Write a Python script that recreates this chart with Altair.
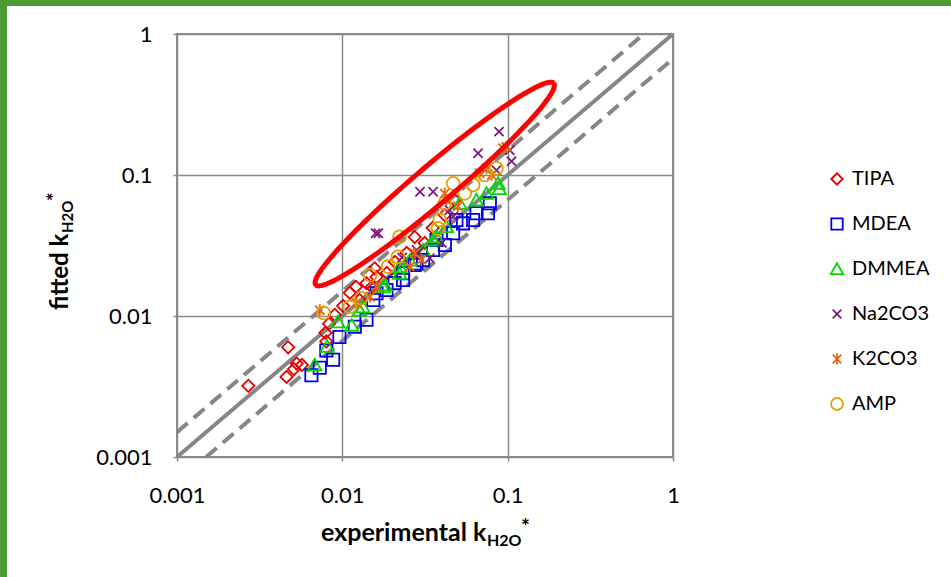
import altair as alt
import numpy as np
import pandas as pd

# ---------------- data ----------------
series_names = ["TIPA", "MDEA", "DMMEA", "Na2CO3", "K2CO3", "AMP"]
series_colors = ["#E20000", "#0000EE", "#00D800", "#7A1A82", "#E8650F", "#E3A100"]

tipa_x = [0.0027, 0.0047, 0.0046, 0.0053, 0.0057, 0.0051, 0.0080, 0.0079, 0.0083, 0.0090,
          0.0101, 0.0111, 0.0121, 0.0127, 0.0140, 0.0151, 0.0157, 0.0161, 0.0186, 0.0208,
          0.0245, 0.0274, 0.0315, 0.0352, 0.0416, 0.0478]
tipa_y = [0.0032, 0.0060, 0.0037, 0.0046, 0.0045, 0.0042, 0.0066, 0.0076, 0.0088, 0.0102,
          0.0118, 0.0146, 0.0161, 0.0130, 0.0171, 0.0161, 0.0218, 0.0189, 0.0202, 0.0242,
          0.0280, 0.0363, 0.0330, 0.0421, 0.0520, 0.0665]

mdea_x = [0.0065, 0.0073, 0.0088, 0.0080, 0.0096, 0.0119, 0.0140, 0.0154, 0.0161, 0.0185,
          0.0207, 0.0233, 0.0233, 0.0274, 0.0281, 0.0308, 0.0354, 0.0371, 0.0417, 0.0468,
          0.0490, 0.0537, 0.0618, 0.0648, 0.0760, 0.0780]
mdea_y = [0.0038, 0.0043, 0.0049, 0.0057, 0.0071, 0.0084, 0.0094, 0.0130, 0.0145, 0.0153,
          0.0171, 0.0201, 0.0180, 0.0230, 0.0236, 0.0249, 0.0294, 0.0346, 0.0319, 0.0386,
          0.0480, 0.0454, 0.0480, 0.0535, 0.0535, 0.0630]

dmmea_x = [0.0068, 0.0081, 0.0094, 0.0114, 0.0127, 0.0133, 0.0176, 0.0181, 0.0222, 0.0222,
           0.0256, 0.0308, 0.0354, 0.0371, 0.0426, 0.0513, 0.0647, 0.0745, 0.0875, 0.0890]
dmmea_y = [0.0045, 0.0061, 0.0091, 0.0086, 0.0110, 0.0116, 0.0161, 0.0166, 0.0201, 0.0224,
           0.0249, 0.0294, 0.0346, 0.0365, 0.0430, 0.0630, 0.0665, 0.0741, 0.0873, 0.0800]

na2co3_x = [0.0159, 0.0165, 0.0230, 0.0287, 0.0281, 0.0295, 0.0338, 0.0354, 0.0400, 0.0445,
            0.0468, 0.0662, 0.0855, 0.0887, 0.1030, 0.1055]
na2co3_y = [0.0386, 0.0386, 0.0260, 0.0279, 0.0294, 0.0761, 0.0257, 0.0761, 0.0330, 0.0565,
            0.0506, 0.1426, 0.1080, 0.2030, 0.1500, 0.1250]

k2co3_x = [0.0073, 0.0122, 0.0147, 0.0161, 0.0256, 0.0274, 0.0300, 0.0416, 0.0426, 0.0500,
           0.0678, 0.0745, 0.0800, 0.0938, 0.0980]
k2co3_y = [0.0110, 0.0123, 0.0137, 0.0161, 0.0224, 0.0279, 0.0250, 0.0741, 0.0665, 0.0600,
           0.1028, 0.1114, 0.1000, 0.1546, 0.1580]

amp_x = [0.0077, 0.0111, 0.0130, 0.0147, 0.0189, 0.0217, 0.0222, 0.0379, 0.0388, 0.0416,
         0.0468, 0.0550, 0.0618, 0.0727, 0.0855]
amp_y = [0.0105, 0.0116, 0.0134, 0.0195, 0.0224, 0.0263, 0.0365, 0.0419, 0.0480, 0.0630,
         0.0873, 0.0741, 0.0850, 0.1000, 0.1114]

tick_values = [0.001, 0.01, 0.1, 1]
ratio_band = 1.5          # dashed lines: fitted = 1.5 * exp and exp / 1.5

# annotation ellipse (in log10 space): centre, semi-major and semi-minor vectors
ell_center = (-1.441, -1.064)
ell_major = (0.720, 0.715)
ell_minor = (0.0742, -0.1028)

# ---------------- tables ----------------
all_x = [tipa_x, mdea_x, dmmea_x, na2co3_x, k2co3_x, amp_x]
all_y = [tipa_y, mdea_y, dmmea_y, na2co3_y, k2co3_y, amp_y]
rows = []
for name, xs, ys in zip(series_names, all_x, all_y):
    for a, b in zip(xs, ys):
        rows.append({"series": name, "exp": a, "fit": b})
pts = pd.DataFrame(rows)

diag = pd.DataFrame({"exp": [0.001, 1.0], "fit": [0.001, 1.0]})
dashed = pd.DataFrame({
    "exp": [0.001, 1.0 / ratio_band, 0.001 * ratio_band, 1.0],
    "fit": [0.001 * ratio_band, 1.0, 0.001, 1.0 / ratio_band],
    "k": ["up", "up", "lo", "lo"],
})

t = np.linspace(0, 2 * np.pi, 181)
ell = pd.DataFrame({
    "exp": 10 ** (ell_center[0] + ell_major[0] * np.cos(t) + ell_minor[0] * np.sin(t)),
    "fit": 10 ** (ell_center[1] + ell_major[1] * np.cos(t) + ell_minor[1] * np.sin(t)),
    "i": np.arange(len(t)),
})
one = pd.DataFrame({"a": [0]})

# ---------------- styling ----------------
FONT = "Lato"
GRID = "#8A8A8A"
LINE = "#868686"
GREEN = "#4E9A33"

xscale = alt.Scale(type="log", domain=[0.001, 1], nice=False)
yscale = alt.Scale(type="log", domain=[0.001, 1], nice=False)
ax_x = alt.Axis(values=tick_values, format="~g", title=None, grid=True, domain=False,
                tickSize=4, labelPadding=24, labelFlush=False, labelFont=FONT,
                labelFontSize=22, labelColor="#000000", labelOverlap=False)
ax_y = alt.Axis(values=tick_values, format="~g", title=None, grid=True, domain=False,
                tickSize=4, labelPadding=21, labelFlush=False, labelFont=FONT,
                labelFontSize=22, labelColor="#000000", labelOverlap=False)

X = alt.X("exp:Q", scale=xscale, axis=ax_x)
Y = alt.Y("fit:Q", scale=yscale, axis=ax_y)

shapes = [
    "diamond",
    "square",
    "M0,-1L1.1,0.9L-1.1,0.9Z",
    "M-0.75,-0.75L0.75,0.75M-0.75,0.75L0.75,-0.75",
    "M-0.75,-0.75L0.75,0.75M-0.75,0.75L0.75,-0.75M0,-0.95L0,0.95",
    "M-1.05,0A1.05,1.05 0 1,0 1.05,0A1.05,1.05 0 1,0 -1.05,0Z",
]

leg = alt.Legend(title=None, orient="none", legendX=650, legendY=135, padding=0,
                 labelFont=FONT, labelFontSize=20, labelColor="#000000",
                 symbolSize=130, symbolStrokeWidth=1.8, rowPadding=25, labelOffset=5)

diag_layer = alt.Chart(diag).mark_line(color=LINE, strokeWidth=4).encode(x=X, y=Y)
dash_layer = alt.Chart(dashed).mark_line(color=LINE, strokeWidth=4, strokeDash=[14, 8]).encode(
    x=X, y=Y, detail="k:N")

point_layer = alt.Chart(pts).mark_point(filled=False, strokeWidth=1.8, size=150, opacity=1).encode(
    x=X, y=Y,
    color=alt.Color("series:N", scale=alt.Scale(domain=series_names, range=series_colors), legend=leg),
    shape=alt.Shape("series:N", scale=alt.Scale(domain=series_names, range=shapes), legend=leg),
)

ell_layer = alt.Chart(ell).mark_line(color="#FF0000", strokeWidth=5).encode(
    x=X, y=Y, order="i:Q")

# frame bands (relative to the plot origin)
left_band = alt.Chart(one).mark_rect(color=GREEN).encode(
    x=alt.value(-177), x2=alt.value(-170), y=alt.value(-34), y2=alt.value(543))
top_band = alt.Chart(one).mark_rect(color=GREEN).encode(
    x=alt.value(-177), x2=alt.value(774), y=alt.value(-34), y2=alt.value(-28))


def txt(text, x, y, size, angle=0):
    kw = dict(text=text, font=FONT, fontSize=size, fontWeight="bold", color="#000000",
              align="left", baseline="alphabetic")
    if angle:
        kw["angle"] = angle
    return alt.Chart(one).mark_text(**kw).encode(x=alt.value(x), y=alt.value(y))


titles = [
    txt("experimental k", 144, 507, 25),
    txt("H2O", 310, 512, 16),
    txt("*", 344, 500, 21),
    txt("fitted k", -109, 276, 24, 270),
    txt("H2O", -104, 199, 15, 270),
    txt("*", -115, 167, 20, 270),
]

chart = alt.layer(
    diag_layer, dash_layer, point_layer, ell_layer, left_band, top_band, *titles
).properties(
    width=496, height=423,
    padding={"left": 177, "top": 34, "right": 278, "bottom": 120},
    autosize=alt.AutoSizeParams(type="none"),
).configure(background="white").configure_view(
    stroke=GRID, strokeWidth=2
).configure_axis(
    gridColor=GRID, gridWidth=1.5, gridOpacity=1, tickColor=GRID, tickWidth=1.5
)

chart.save("out.html", embed_options={"renderer": "svg", "actions": False})
